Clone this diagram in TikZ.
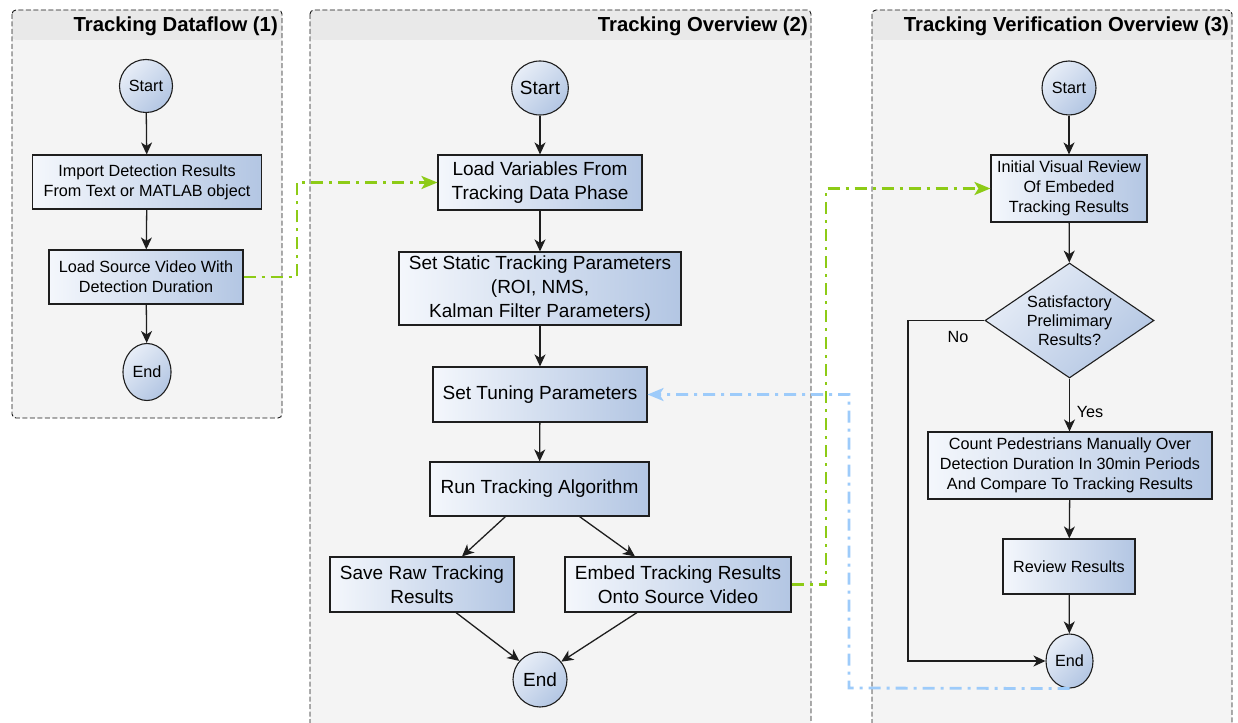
\documentclass[tikz,border=0pt]{standalone}
\usepackage{fontspec}
\setmainfont{Liberation Sans}
\usetikzlibrary{arrows.meta,shapes.geometric,calc}

\definecolor{panelbg}{HTML}{F4F4F4}
\definecolor{panelhead}{HTML}{E9E9E9}
\definecolor{boxL}{HTML}{F4F7FC}
\definecolor{boxR}{HTML}{B3C6E3}
\definecolor{linkgreen}{HTML}{8DCB16}
\definecolor{linkblue}{HTML}{9DCBFA}
\definecolor{edgegray}{HTML}{1E1E1E}

\begin{document}
\begin{tikzpicture}[x=1pt,y=-1pt,
  panel/.style={draw=black!90, dash pattern=on 5pt off 2.5pt, line width=0.9pt, rounded corners=4pt},
  ptitle/.style={anchor=east, font=\bfseries\fontsize{20.3}{22}\selectfont, inner sep=0pt},
  smallfont/.style={font=\fontsize{16.2}{19.8}\selectfont},
  bigfont/.style={font=\fontsize{19}{24}\selectfont},
  proc/.style={draw=edgegray, line width=1.1pt, left color=boxL, right color=boxR, align=center, inner sep=0pt},
  term/.style={ellipse, draw=edgegray, line width=1.1pt, top color=boxL!80!boxR, bottom color=boxR, shading angle=45, inner sep=0pt},
  decide/.style={diamond, aspect=1.47, draw=edgegray, line width=1.1pt, top color=boxL!80!boxR, bottom color=boxR, shading angle=45, inner sep=0pt, align=center},
  flow/.style={draw=edgegray, line width=1.3pt, -{Stealth[length=12pt,width=11pt,inset=3.5pt]}},
  dashdot/.style={line width=2.8pt, dash pattern=on 12pt off 6pt on 3pt off 6pt},
  glink/.style={dashdot, draw=linkgreen, -{Stealth[length=16pt,width=13pt,inset=4pt]}},
  blink/.style={dashdot, draw=linkblue, -{Stealth[length=16pt,width=13pt,inset=4pt]}},
  lbl/.style={font=\fontsize{16.2}{19.8}\selectfont, inner sep=0pt}
]
\clip (0,0) rectangle (1238,722);
\fill[white] (0,0) rectangle (1238,722);

% ---------- lanes ----------
\fill[panelbg, rounded corners=4pt] (12,10) rectangle (282,418);
\fill[panelhead, rounded corners=4pt] (12,10) rectangle (282,40);
\path[panel] (12,10) rectangle (282,418);
\node[ptitle] (t1) at (278,26) {Tracking Dataflow (1)};

\fill[panelbg, rounded corners=4pt] (310,10) rectangle (811,760);
\fill[panelhead, rounded corners=4pt] (310,10) rectangle (811,40);
\path[panel] (310,10) rectangle (811,760);
\node[ptitle] (t2) at (808,26) {Tracking Overview (2)};

\fill[panelbg, rounded corners=4pt] (872,10) rectangle (1232,760);
\fill[panelhead, rounded corners=4pt] (872,10) rectangle (1232,40);
\path[panel] (872,10) rectangle (1232,760);
\node[ptitle] (t3) at (1229,26) {Tracking Verification Overview (3)};

% ---------- lane 1: dataflow ----------
\node[term, smallfont, minimum width=53, minimum height=53] (s1) at (146,86) {Start};
\node[proc, smallfont, minimum width=229, minimum height=54] (imp) at (147,182)
  {Import Detection Results\\From Text or MATLAB object};
\node[proc, smallfont, minimum width=194, minimum height=54] (lsv) at (146,277)
  {Load Source Video With\\Detection Duration};
\node[term, smallfont, minimum width=48, minimum height=57] (e1) at (147,372) {End};

\draw[flow] (s1) -- (imp);
\draw[flow] (imp) -- (lsv);
\draw[flow] (lsv) -- (e1);

% ---------- lane 2: tracking ----------
\node[term, bigfont, minimum width=54, minimum height=54] (s2) at (540,88) {Start};
\node[proc, bigfont, minimum width=204, minimum height=55] (lv) at (540,182.5)
  {Load Variables From\\Tracking Data Phase};
\node[proc, bigfont, minimum width=282, minimum height=73] (ss) at (540,288.5)
  {Set Static Tracking Parameters\\(ROI, NMS,\\Kalman Filter Parameters)};
\node[proc, bigfont, minimum width=214, minimum height=55] (st) at (540,394.5)
  {Set Tuning Parameters};
\node[proc, bigfont, minimum width=219, minimum height=54] (rt) at (539.5,489)
  {Run Tracking Algorithm};
\node[proc, bigfont, minimum width=184, minimum height=55] (sr) at (422,584.5)
  {Save Raw Tracking\\Results};
\node[proc, bigfont, minimum width=226, minimum height=55] (em) at (678,584.5)
  {Embed Tracking Results\\Onto Source Video};
\node[term, bigfont, minimum width=54, minimum height=55] (e2) at (540,679.5) {End};

\draw[flow] (s2) -- (lv);
\draw[flow] (lv) -- (ss);
\draw[flow] (ss) -- (st);
\draw[flow] (st) -- (rt);
\draw[flow] ([xshift=-34pt]rt.south) -- ([xshift=40pt]sr.north);
\draw[flow] ([xshift=40pt]rt.south) -- ([xshift=-43pt]em.north);
\draw[flow] ([xshift=34pt]sr.south) -- (e2.138);
\draw[flow] ([xshift=-41pt]em.south) -- (e2.40);

% ---------- lane 3: verification ----------
\node[term, smallfont, minimum width=54, minimum height=54] (s3) at (1069,88) {Start};
\node[proc, smallfont, minimum width=156, minimum height=67] (iv) at (1069,188.5)
  {Initial Visual Review\\Of Embeded\\Tracking Results};
\node[decide, font=\fontsize{16.2}{19}\selectfont, minimum width=169, minimum height=115] (dq) at (1069.5,320.5)
  {Satisfactory\\Prelimimary\\Results?};
\node[proc, smallfont, minimum width=284, minimum height=67] (cp) at (1070,465.5)
  {Count Pedestrians Manually Over\\Detection Duration In 30min Periods\\And Compare To Tracking Results};
\node[proc, smallfont, minimum width=132, minimum height=55] (rr) at (1069,566.5)
  {Review Results};
\node[term, smallfont, minimum width=47, minimum height=54] (e3) at (1069.5,661) {End};

\draw[flow] (s3) -- (iv);
\draw[flow] (iv) -- (dq);
\draw[flow] (dq.south) -- (dq.south |- cp.north);
\draw[flow] (cp) -- (rr);
\draw[flow] (rr) -- (e3);
\coordinate (nobend) at (908,320.5);
\draw[flow] (dq.west) -- (nobend) |- (e3.west);
\node[lbl] (nolbl) at (958,337) {No};
\node[lbl] (yeslbl) at (1090,412) {Yes};

% ---------- links between lanes ----------
\coordinate (g1) at (297,277);
\draw[glink] (lsv.east) -- (g1) |- (lv.west);
\coordinate (g2) at (826,584.5);
\draw[glink] (em.east) -- (g2) |- (iv.west);
\coordinate (b1) at (849,688);
\draw[blink] (e3.south) -- (b1) |- (st.east);
\end{tikzpicture}
\end{document}
